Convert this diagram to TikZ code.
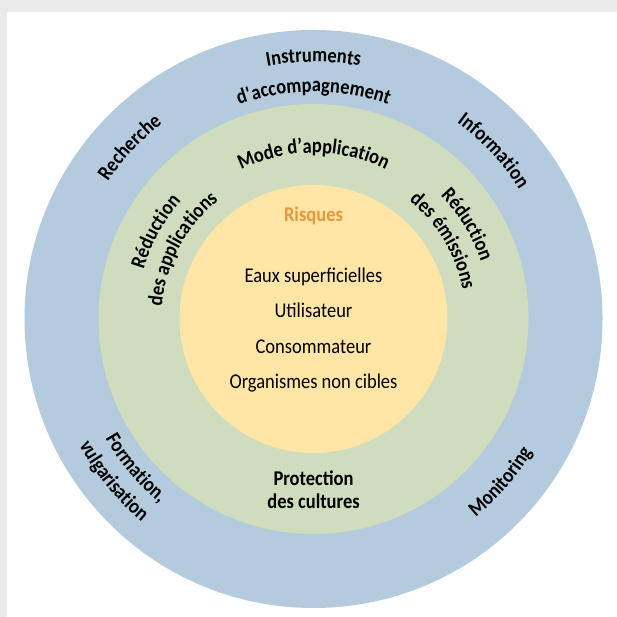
\documentclass[tikz,border=0pt]{standalone}
\usepackage{fontspec}
\setmainfont{Carlito}[FakeStretch=0.88]
\usetikzlibrary{decorations.text}

\definecolor{frameGray}{RGB}{232,235,234}
\definecolor{ringBlue}{RGB}{180,203,221}
\definecolor{ringGreen}{RGB}{207,220,189}
\definecolor{coreYellow}{RGB}{255,230,166}
\definecolor{riskOrange}{RGB}{232,152,60}

\newcommand\ringfont{\fontsize{21}{25}\selectfont\bfseries}
\newcommand\itemfont{\fontsize{21}{25}\selectfont}

\tikzset{
	ring text/.style={decorate, decoration={text along path, text align=center}},
	item/.style={anchor=base, font=\itemfont, inner sep=0pt}
}

\begin{document}
\begin{tikzpicture}[x=1pt,y=1pt]
	\useasboundingbox (0,0) rectangle (617,617);
	% frame
	\fill[white] (0,0) rectangle (617,617);
	\fill[frameGray] (0,605) rectangle (617,617);
	\fill[frameGray] (0,0) rectangle (7,617);

	\coordinate (c) at (313.5,298);

	% rings
	\fill[ringBlue] (c) circle[radius=289];
	\fill[ringGreen] (c) circle[radius=215];
	\fill[coreYellow] (c) circle[radius=134];

	% outer ring, upper half (clockwise arcs)
	\path[ring text, decoration={text={|\ringfont|Instruments}}] (c) ++(140:257) arc[start angle=140, end angle=40, radius=257];
	\path[ring text, decoration={text={|\ringfont|d{\textquotesingle}accompagnement}}] (c) ++(150:227) arc[start angle=150, end angle=30, radius=227];
	\path[ring text, decoration={text={|\ringfont|Recherche}}] (c) ++(175:247) arc[start angle=175, end angle=99, radius=247];
	\path[ring text, decoration={text={|\ringfont|Information}}] (c) ++(82:243) arc[start angle=82, end angle=4, radius=243];
	% outer ring, lower half (counterclockwise arcs)
	\path[ring text, decoration={text={|\ringfont|Monitoring}}] (c) ++(-80:256) arc[start angle=-80, end angle=-2, radius=256];
	\path[ring text, decoration={text={|\ringfont|Formation,}}] (c) ++(180:240) arc[start angle=180, end angle=260, radius=240];
	\path[ring text, decoration={text={|\ringfont|vulgarisation}}] (c) ++(179:266) arc[start angle=179, end angle=259, radius=266];

	% middle ring
	\path[ring text, decoration={text={|\ringfont|Mode d’application}}] (c) ++(150:166) arc[start angle=150, end angle=30, radius=166];
	\path[ring text, decoration={text={|\ringfont|Réduction}}] (c) ++(200:177) arc[start angle=200, end angle=102, radius=177];
	\path[ring text, decoration={text={|\ringfont|des applications}}] (c) ++(202:152) arc[start angle=202, end angle=102, radius=152];
	\path[ring text, decoration={text={|\ringfont|Réduction}}] (c) ++(80:177) arc[start angle=80, end angle=-17, radius=177];
	\path[ring text, decoration={text={|\ringfont|des émissions}}] (c) ++(80:152) arc[start angle=80, end angle=-18, radius=152];
	\node[align=center, font=\ringfont] (protection) at (313.5,127) {Protection\\[-2pt]des cultures};

	% core
	\node[item, font=\fontsize{21}{25}\selectfont\bfseries, text=riskOrange] (risques) at (313.5,395.3) {Risques};
	\node[item] (eaux) at (313.5,334.7) {Eaux superficielles};
	\node[item] (utilisateur) at (313.5,299.3) {Utilisateur};
	\node[item] (consommateur) at (313.5,263.7) {Consommateur};
	\node[item] (organismes) at (313.5,228.7) {Organismes non cibles};
\end{tikzpicture}
\end{document}
